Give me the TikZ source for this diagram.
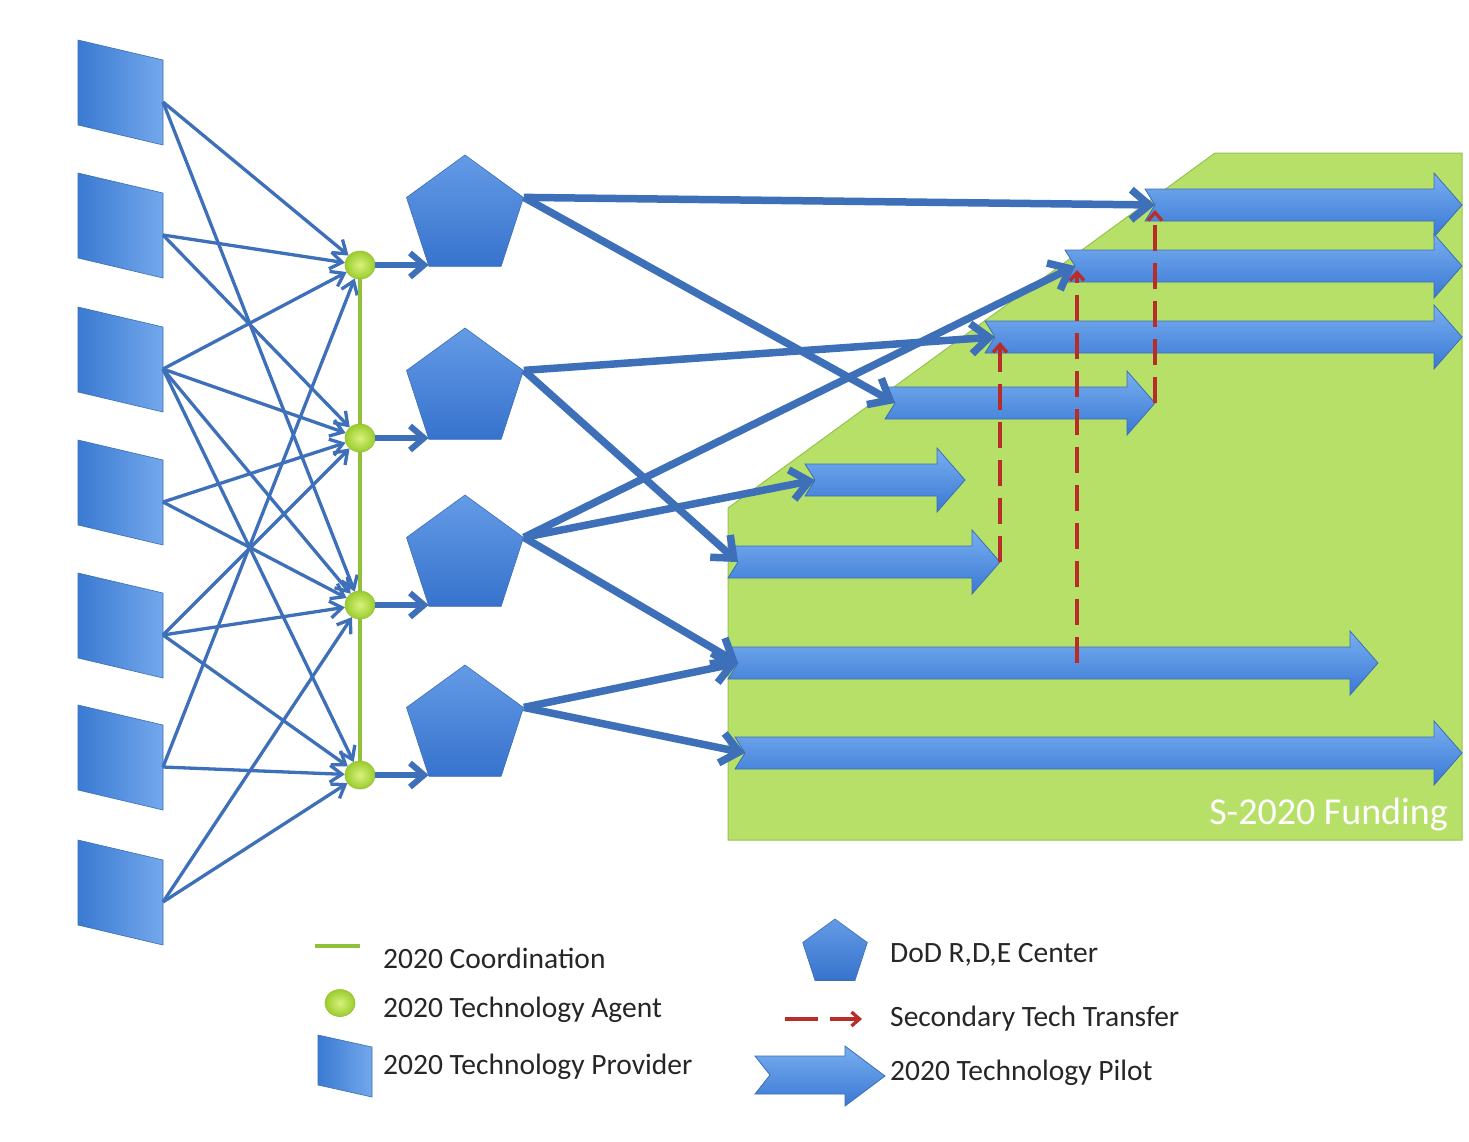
\documentclass[tikz,border=0pt]{standalone}
\usepackage{fontspec}
\setmainfont{Carlito}
\usetikzlibrary{arrows.meta,shapes.geometric,calc}
\definecolor{lineblue}{RGB}{62,112,185}
\definecolor{fundgreen}{RGB}{182,224,104}
\definecolor{fundedge}{RGB}{150,195,80}
\definecolor{coordgreen}{RGB}{145,192,60}
\definecolor{redtx}{RGB}{185,45,40}
\definecolor{provL}{RGB}{58,122,210}
\definecolor{provR}{RGB}{115,168,236}
\definecolor{pentT}{RGB}{100,155,230}
\definecolor{pentB}{RGB}{55,115,205}
\definecolor{pilotT}{RGB}{120,175,240}
\definecolor{pilotB}{RGB}{58,120,212}
\definecolor{pilotedge}{RGB}{60,110,180}
\tikzset{
  feedline/.style={draw=lineblue, line width=3.3pt, -{Straight Barb[length=12pt,width=17pt]}},
  shortline/.style={draw=lineblue, line width=6pt, -{Straight Barb[length=14pt,width=24pt]}},
  mainline/.style={draw=lineblue, line width=7.5pt, -{Straight Barb[length=18pt,width=30pt]}},
  redline/.style={draw=redtx, line width=3.3pt, dash pattern=on 26pt off 12pt, -{Straight Barb[length=8pt,width=14pt]}},
  coordline/.style={draw=coordgreen, line width=3.5pt},
  agent/.style={ellipse, minimum width=30pt, minimum height=28pt, inner sep=0pt, inner color={rgb,255:red,215;green,242;blue,125}, outer color={rgb,255:red,155;green,205;blue,45}, draw={rgb,255:red,150;green,190;blue,60}, line width=0.6pt},
  center/.style={regular polygon, regular polygon sides=5, minimum size=123pt, inner sep=0pt, top color=pentT, bottom color=pentB, draw=pilotedge, line width=0.6pt},
  prov/.style={left color=provL, right color=provR, draw=pilotedge, line width=0.6pt},
  pilot/.style={top color=pilotT, bottom color=pilotB, draw=pilotedge, line width=0.8pt},
  lbl/.style={anchor=west, inner sep=0pt, font=\fontsize{29.5}{34}\selectfont, text=black!85},
}
\newcommand\provshape[2]{%
  \path[prov] (78,#2) -- (163,#2+20) -- (163,#2+105) -- (78,#2+85) -- cycle;
  \coordinate (#1) at (163,#2+62);
}
\newcommand\pilotshape[4]{%
  \path[pilot] (#2,#4-16) -- (#3-28,#4-16) -- (#3-28,#4-32) -- (#3,#4) -- (#3-28,#4+32) -- (#3-28,#4+16) -- (#2,#4+16) -- (#2+10,#4) -- cycle;
  \coordinate (#1) at (#2+10,#4);
  \coordinate (#1tip) at (#3,#4);
}
\begin{document}
\begin{tikzpicture}[x=1pt,y=-1pt]
\useasboundingbox[fill=white] (0,0) rectangle (1469,1141);
% funding region
\path[fill=fundgreen, draw=fundedge, line width=1pt] (728,840) -- (728,508) -- (1215,153) -- (1462,153) -- (1462,840) -- cycle;
\node[anchor=east, inner sep=0pt, text=white, font=\fontsize{38}{44}\selectfont] (fund) at (1448,815) {S-2020 Funding};

% providers
\provshape{P1}{40}
\provshape{P2}{173}
\provshape{P3}{307}
\provshape{P4}{440}
\provshape{P5}{573}
\provshape{P6}{705}
\provshape{P7}{840}

% agents (named first so lines can end on them)
\path (360,265) node[agent, opacity=0] (A1) {}
      (360,438) node[agent, opacity=0] (A2) {}
      (360,605) node[agent, opacity=0] (A3) {}
      (360,775) node[agent, opacity=0] (A4) {};

\foreach \p/\a in {P1/A1,P1/A3,P2/A1,P2/A2,P3/A1,P3/A2,P3/A3,P3/A4,P4/A2,P4/A3,P5/A2,P5/A3,P5/A4,P6/A1,P6/A4,P7/A3,P7/A4}
  \draw[feedline] (\p) -- (\a);

\draw[coordline] (A1.center) -- (A4.center);
\foreach \a in {A1,A2,A3,A4}
  \node[agent] at (\a) {};

% DoD centers
\node[center] (D1) at (465,216.5) {};
\node[center] (D2) at (465,389.5) {};
\node[center] (D3) at (465,556.5) {};
\node[center] (D4) at (465,726.5) {};

\draw[shortline] (A1) -- (A1 -| D1.corner 3);
\draw[shortline] (A2) -- (A2 -| D2.corner 3);
\draw[shortline] (A3) -- (A3 -| D3.corner 3);
\draw[shortline] (A4) -- (A4 -| D4.corner 3);

% pilots
\pilotshape{T1}{1145}{1462}{205}
\pilotshape{T2}{1065}{1462}{266}
\pilotshape{T3}{985}{1462}{337}
\pilotshape{T4}{885}{1155}{403}
\pilotshape{T5}{728}{1000}{562}
\pilotshape{T6}{805}{965}{480}
\pilotshape{T7}{728}{1378}{663}
\pilotshape{T8}{735}{1462}{753}

% center to pilot
\draw[mainline] (D1.corner 5) -- (T1);
\draw[mainline] (D1.corner 5) -- (T4);
\draw[mainline] (D2.corner 5) -- (T3);
\draw[mainline] (D2.corner 5) -- (T5);
\draw[mainline] (D3.corner 5) -- (T2);
\draw[mainline] (D3.corner 5) -- (T6);
\draw[mainline] (D3.corner 5) -- (T7);
\draw[mainline] (D4.corner 5) -- (T7);
\draw[mainline] (D4.corner 5) -- (T8);

% secondary transfers
\coordinate (R1) at (1000,342);
\coordinate (R2) at (1077,270);
\coordinate (R3) at (1155,210);
\coordinate (S2) at (1077,663);
\draw[redline] (T5tip) -- (R1);
\draw[redline] (S2) -- (R2);
\draw[redline] (T4tip) -- (R3);

% legend
\coordinate (LCa) at (315,946);
\coordinate (LCb) at (360,946);
\draw[coordline, line width=4pt] (LCa) -- (LCb);
\node[lbl] (L1) at (383,958) {2020 Coordination};
\node[agent, minimum width=30pt, minimum height=27pt] (LA) at (340,1003) {};
\node[lbl] (L2) at (383,1010) {2020 Technology Agent};
\path[prov] (318,1035) -- (372,1047) -- (372,1097) -- (318,1085) -- cycle;
\node[lbl] (L3) at (383,1067) {2020 Technology Provider};

\node[center, minimum size=68pt] (LD) at (835,953) {};
\node[lbl] (L4) at (890,955) {DoD R,D,E Center};
\coordinate (LRa) at (785,1019);
\coordinate (LRb) at (862,1019);
\draw[redline, dash pattern=on 33pt off 12pt] (LRa) -- (LRb);
\node[lbl] (L5) at (890,1019) {Secondary Tech Transfer};
\path[pilot] (755,1056) -- (845,1056) -- (845,1046) -- (885,1076) -- (845,1106) -- (845,1094) -- (755,1094) -- (770,1075) -- cycle;
\node[lbl] (L6) at (890,1073) {2020 Technology Pilot};
\end{tikzpicture}
\end{document}
